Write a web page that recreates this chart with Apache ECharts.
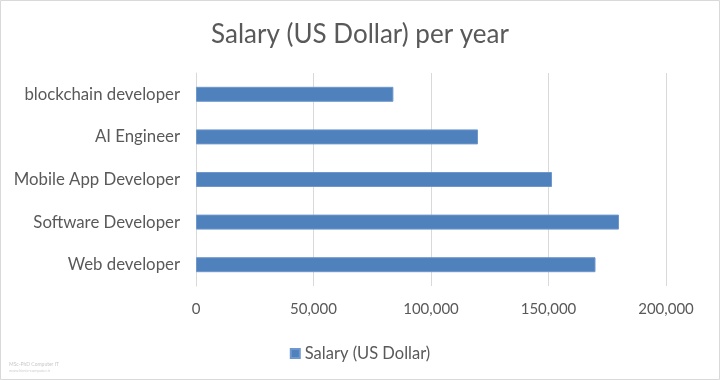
<!DOCTYPE html>
<html><head><meta charset="utf-8">
<script src="https://cdn.jsdelivr.net/npm/echarts@6/dist/echarts.min.js"></script>
<style>html,body{margin:0;padding:0;background:#fff}#c{width:720px;height:380px}</style>
</head><body><div id="c"></div>
<script>
const categories = ["Web developer", "Software Developer", "Mobile App Developer", "AI Engineer", "blockchain developer"];
const salaries = [170000, 180000, 151500, 120000, 84000];
const seriesName = "Salary (US Dollar)";
const titleText = "Salary (US Dollar) per year";

const chart = echarts.init(document.getElementById('c'));
const font = 'Lato, "Open Sans", sans-serif';
chart.setOption({
  animation: false,
  backgroundColor: '#fff',
  title: { text: titleText, left: 'center', top: 17, textStyle: { fontFamily: font, fontSize: 26, fontWeight: 'normal', color: '#595959' } },
  grid: { left: 196, right: 54, top: 73, bottom: 94, containLabel: false },
  xAxis: {
    type: 'value', min: 0, max: 200000, interval: 50000,
    axisLine: { show: false }, axisTick: { show: false },
    splitLine: { lineStyle: { color: '#d9d9d9', width: 1 } },
    axisLabel: { margin: 16, fontFamily: font, fontSize: 15, color: '#595959',
      formatter: v => v.toLocaleString('en-US') }
  },
  yAxis: {
    type: 'category', data: categories,
    axisLine: { show: true, lineStyle: { color: '#d9d9d9' } }, axisTick: { show: false },
    axisLabel: { margin: 16, fontFamily: font, fontSize: 16.8, color: '#595959' }
  },
  legend: {
    data: [seriesName], left: 'center', top: 340, itemWidth: 9, itemHeight: 9, itemGap: 5,
    icon: 'rect', textStyle: { fontFamily: font, fontSize: 16.5, color: '#595959' }
  },
  series: [{
    name: seriesName, type: 'bar', data: salaries, barWidth: 15,
    itemStyle: { color: '#4f81bd', borderColor: '#6f97cc', borderWidth: 1 }
  }],
  graphic: [
    { type: 'rect', shape: { x: 0.5, y: 0.5, width: 719, height: 379 }, style: { fill: 'none', stroke: '#d9d9d9', lineWidth: 1 } },
    { type: 'text', left: 9, top: 362, style: { text: 'MSc-PhD Computer IT', fontSize: 5, fill: '#c8c8c8', fontFamily: font } },
    { type: 'text', left: 9, top: 369, style: { text: 'www.kimia-computer.ir', fontSize: 4, fill: '#d0d0d0', fontFamily: font } }
  ]
});
</script></body></html>
